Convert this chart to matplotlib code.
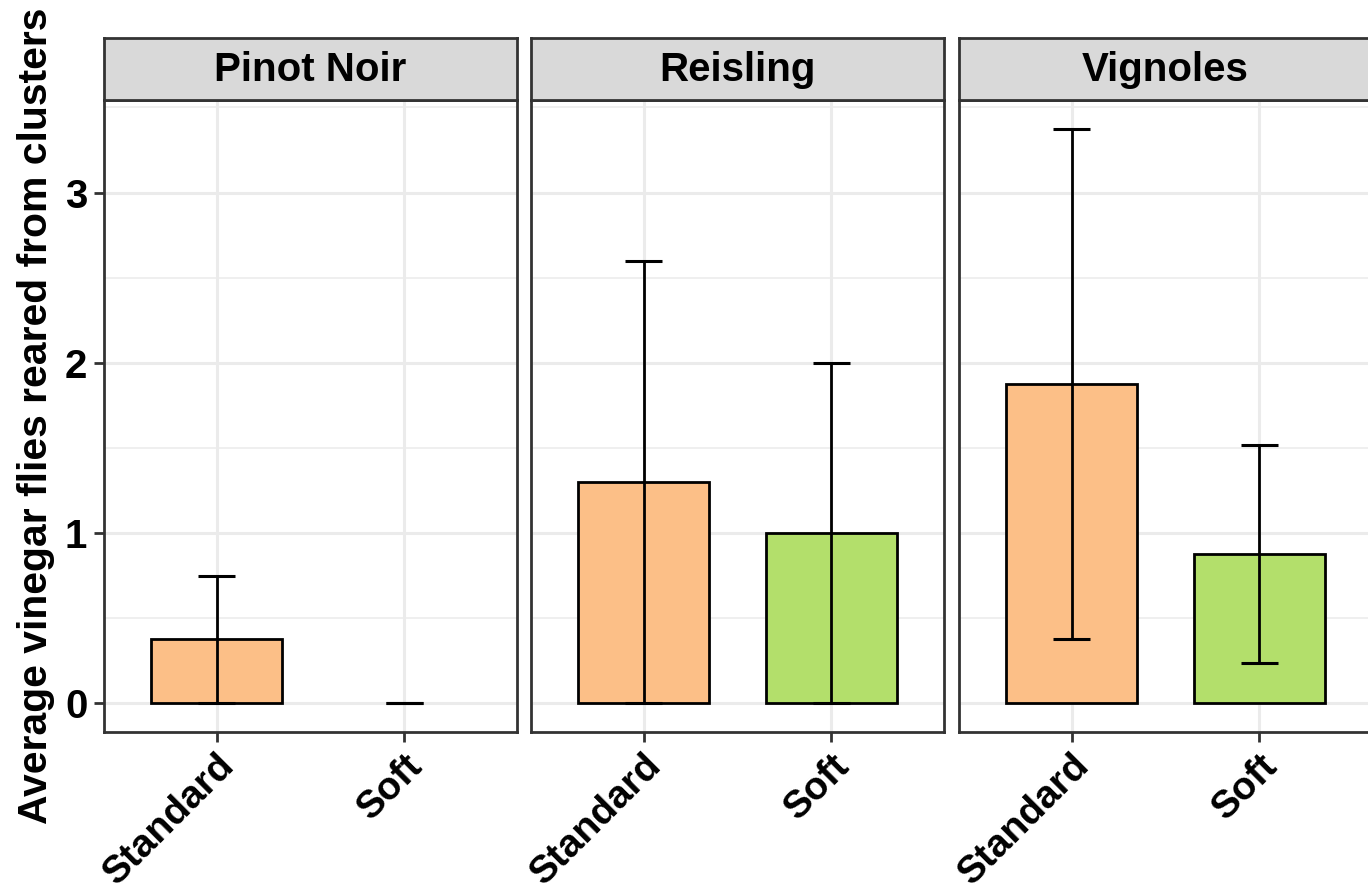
import matplotlib.pyplot as plt
import numpy as np

plt.rcParams['font.family'] = ['Liberation Sans', 'DejaVu Sans']
plt.rcParams['font.weight'] = 'bold'

varieties = ['Pinot Noir', 'Reisling', 'Vignoles']
treatments = ['Standard', 'Soft']
means = {'Pinot Noir': [0.375, 0.0],
         'Reisling': [1.3, 1.0],
         'Vignoles': [1.875, 0.875]}
errors = {'Pinot Noir': [0.375, 0.0],
          'Reisling': [1.3, 1.0],
          'Vignoles': [1.5, 0.64]}
bar_colors = ['#FCBF87', '#B3DF6B']

W, H = 1368, 890
fig = plt.figure(figsize=(W / 100, H / 100), dpi=100)

panel_left = [104, 531, 959]
panel_w = 413
top, bottom = 100, 732
strip_h = 62
edge = '#333333'

for i, v in enumerate(varieties):
    x0 = panel_left[i]
    ax = fig.add_axes([x0 / W, 1 - bottom / H, panel_w / W, (bottom - top) / H])
    x = np.arange(1, 3)
    lws = [2 if m > 0 else 0 for m in means[v]]
    ax.bar(x, means[v], width=0.7, color=bar_colors, edgecolor='black',
           linewidth=lws, zorder=3)
    ax.errorbar(x, means[v], yerr=errors[v], fmt='none', ecolor='black',
                elinewidth=2, capsize=0, zorder=4)
    # caps
    for xi, m, e in zip(x, means[v], errors[v]):
        for yy in (m - e, m + e):
            ax.plot([xi - 0.1, xi + 0.1], [yy, yy], color='black', lw=2.2,
                    zorder=4, solid_capstyle='butt')
    ax.set_xlim(0.4, 2.6)
    ax.set_ylim(-0.169, 3.544)
    ax.set_xticks(x)
    ax.set_xticklabels(treatments, rotation=45, ha='right', rotation_mode='anchor',
                       fontsize=28, fontweight='bold')
    ax.set_yticks([0, 1, 2, 3])
    ax.set_yticks([0.5, 1.5, 2.5, 3.5], minor=True)
    ax.grid(True, which='major', color='#EBEBEB', lw=2.2, zorder=0)
    ax.grid(True, which='minor', axis='y', color='#EBEBEB', lw=1.1, zorder=0)
    ax.tick_params(axis='x', length=7, width=2, color=edge, pad=4)
    ax.tick_params(axis='y', which='major', length=7, width=2, color=edge,
                   labelsize=29, pad=5)
    ax.tick_params(axis='y', which='minor', length=0)
    if i > 0:
        ax.tick_params(axis='y', which='major', length=0, labelleft=False)
    else:
        ax.set_yticklabels(['0', '1', '2', '3'], fontweight='bold')
        ax.set_ylabel('Average vinegar flies reared from clusters', fontsize=29.4,
                      fontweight='bold', labelpad=7)
    for s in ax.spines.values():
        s.set_color(edge)
        s.set_linewidth(2)
    ax.set_axisbelow(True)

    sax = fig.add_axes([x0 / W, 1 - top / H, panel_w / W, strip_h / H])
    sax.set_facecolor('#D9D9D9')
    sax.set_xticks([])
    sax.set_yticks([])
    for s in sax.spines.values():
        s.set_color(edge)
        s.set_linewidth(2)
    sax.text(0.5, 0.48, v, ha='center', va='center', fontsize=29,
             fontweight='bold', transform=sax.transAxes)

fig.savefig('out.png', dpi=100)
